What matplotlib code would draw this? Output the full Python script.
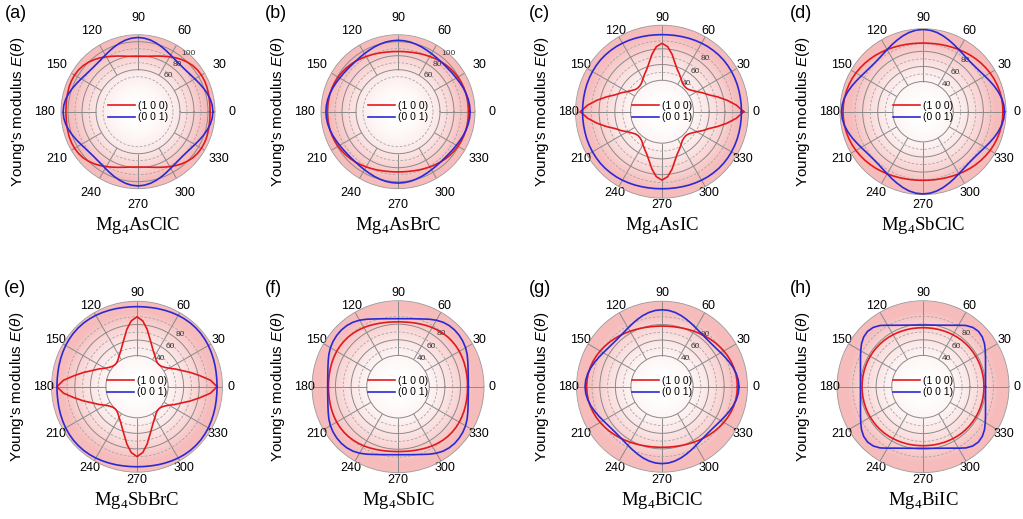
import numpy as np
import matplotlib.pyplot as plt
from matplotlib.colors import LinearSegmentedColormap
from matplotlib.ticker import FixedLocator

plt.rcParams['font.family'] = ['Liberation Sans', 'DejaVu Sans']
plt.rcParams['mathtext.fontset'] = 'custom'
plt.rcParams['mathtext.rm'] = 'Liberation Sans'
plt.rcParams['mathtext.it'] = 'Liberation Sans:italic'

# E(theta) read in the first quadrant, 0..90 deg every 5 deg
angles_deg = np.arange(0, 95, 5)

red_a = [103, 103.1, 103.5, 104.0, 104.6, 104.8, 104.6, 103.8, 102.3, 100, 97.2, 94.0, 90.6, 87.4, 84.6, 82.2, 80.4, 79.4, 79]
blue_a = [107, 106.4, 104.7, 102.2, 99.3, 96.4, 93.8, 91.8, 90.5, 90, 90.4, 91.5, 93.4, 95.9, 98.7, 101.4, 103.8, 105.4, 106]
red_b = [101, 100.9, 100.8, 100.6, 100.2, 99.6, 98.9, 97.9, 96.8, 95.5, 94.1, 92.6, 91.1, 89.7, 88.5, 87.4, 86.6, 86.2, 86]
blue_b = [103, 102.7, 101.9, 100.6, 99.2, 97.6, 96.2, 95.1, 94.3, 94, 94.2, 94.8, 95.8, 97.0, 98.5, 99.8, 101.0, 101.7, 102]
red_c = [104, 95, 84, 73, 63, 57, 51, 47, 44, 43, 43.4, 45, 48.5, 52.5, 57, 64, 74, 83, 87]
blue_c = [101, 101.1, 101.2, 101.4, 101.7, 101.9, 102.1, 102.2, 102.2, 102, 101.6, 101.2, 100.6, 100.0, 99.4, 98.8, 98.4, 98.1, 98]
red_d = [106, 105.9, 105.6, 105.2, 104.5, 103.7, 102.7, 101.5, 100.3, 99, 97.7, 96.3, 95.1, 93.9, 92.9, 92.1, 91.5, 91.1, 91]
blue_d = [108, 107.4, 105.7, 103.1, 100.2, 97.2, 94.6, 92.6, 91.4, 91, 91.5, 92.9, 95.0, 97.8, 100.8, 103.9, 106.6, 108.4, 109]
red_e = [103, 95, 82, 71, 61, 54, 47.6, 43.4, 40.9, 40, 40.5, 42.5, 46, 50, 56, 64, 75, 85, 90]
blue_e = [103, 103.1, 103.4, 104.0, 104.6, 105.3, 106.0, 106.5, 106.9, 107, 106.9, 106.5, 106.0, 105.3, 104.6, 104.0, 103.4, 103.1, 103]
red_f = [89, 89.1, 89.3, 89.6, 90.0, 90.3, 90.6, 90.6, 90.4, 90, 89.3, 88.4, 87.4, 86.3, 85.2, 84.3, 83.6, 83.1, 83]
blue_f = [90, 90.3, 91.2, 92.8, 95.0, 97.6, 99.8, 101.3, 102.2, 102.5, 102.0, 100.6, 98.2, 95.2, 92.2, 89.9, 88.3, 87.3, 87]
red_g = [97, 96.8, 96.4, 95.6, 94.6, 93.3, 91.9, 90.3, 88.7, 87, 85.4, 83.8, 82.4, 81.1, 80.0, 79.1, 78.5, 78.1, 78]
blue_g = [99, 98.5, 97.0, 94.8, 92.2, 89.6, 87.3, 85.5, 84.4, 84, 84.4, 85.5, 87.3, 89.6, 92.2, 94.8, 97.0, 98.5, 99]
red_h = [78, 78, 78, 78, 78, 78, 77.9, 77.8, 77.7, 77.5, 77.3, 77.0, 76.7, 76.4, 76.1, 75.9, 75.7, 75.5, 75.5]
blue_h = [80, 80.3, 81.2, 82.8, 85.1, 88.2, 92.0, 96.0, 99.0, 100.2, 99.0, 95.6, 90.8, 86.7, 83.7, 81.5, 80.0, 79.1, 78.8]

panel_tags = ['(a)', '(b)', '(c)', '(d)', '(e)', '(f)', '(g)', '(h)']
compounds = ['AsClC', 'AsBrC', 'AsIC', 'SbClC', 'SbBrC', 'SbIC', 'BiClC', 'BiIC']
red_sets = [red_a, red_b, red_c, red_d, red_e, red_f, red_g, red_h]
blue_sets = [blue_a, blue_b, blue_c, blue_d, blue_e, blue_f, blue_g, blue_h]
major_ticks = [[60, 80, 100], [60, 80, 100]] + [[40, 60, 80]] * 6
minor_ticks = [[50, 70, 90]] * 8
r_max = 110

# panel centres and radii in pixels
W, H = 1023, 519
centers = [(138, 111.7), (398, 111.7), (662, 111.7), (923, 111.7),
           (137, 386.7), (398, 386.7), (662, 386.7), (923, 386.7)]
radii = [77, 77, 86.5, 83, 85.5, 86, 85.5, 86]

pink = LinearSegmentedColormap.from_list('pinkfade', ['#ffffff', '#f6bcbc'])
grid_col = '#8a8a8a'


def full_circle(q):
    # mirror the first quadrant into the remaining three
    q = np.asarray(q, dtype=float)
    return np.concatenate([q, q[17::-1], q[1:], q[17::-1]])


theta = np.deg2rad(np.arange(0, 365, 5))

fig = plt.figure(figsize=(W / 100, H / 100), dpi=100)

for i in range(8):
    cx, cy = centers[i]
    R = radii[i]
    ax = fig.add_axes([(cx - R) / W, (H - cy - R) / H, 2 * R / W, 2 * R / H],
                      projection='polar')
    ax.set_ylim(0, r_max)

    # radial colour fade behind everything
    rr = np.linspace(0, r_max, 111)
    tt = np.linspace(0, 2 * np.pi, 181)
    T, RR = np.meshgrid(tt, rr)
    rc = 0.5 * (rr[:-1] + rr[1:])
    shade = np.clip(rc / (0.88 * r_max), 0, 1) ** 2.0
    shade = np.repeat(shade[:, None], len(tt) - 1, axis=1)
    ax.pcolormesh(T, RR, shade, cmap=pink, vmin=0, vmax=1, shading='flat',
                  zorder=0, rasterized=True)

    # spokes every 30 degrees, starting at the innermost ring
    spokes = np.deg2rad(np.arange(0, 360, 30))
    ax.vlines(spokes, major_ticks[i][0], r_max, color=grid_col, lw=0.7, zorder=1)

    ax.set_rticks(major_ticks[i])
    ax.yaxis.set_minor_locator(FixedLocator(minor_ticks[i]))
    ax.yaxis.grid(True, which='major', color=grid_col, lw=0.7)
    ax.yaxis.grid(True, which='minor', color='#a5a5a5', lw=0.6, ls=(0, (3, 2)))
    ax.xaxis.grid(False)
    ax.set_rlabel_position(52)
    ax.tick_params(axis='y', which='both', labelsize=6, labelcolor='#333333', length=0)

    ax.set_thetagrids(np.arange(0, 360, 30), labels=[str(a) for a in range(0, 360, 30)])
    ax.tick_params(axis='x', labelsize=9, length=0, pad=0.72 * (84 - R))

    ax.spines['polar'].set_color('#9a9a9a')
    ax.spines['polar'].set_linewidth(0.6)

    ax.plot(theta, full_circle(red_sets[i]), color='#e31a1c', lw=1.2, label='(1 0 0)', zorder=3)
    ax.plot(theta, full_circle(blue_sets[i]), color='#2a2ad4', lw=1.2, label='(0 0 1)', zorder=3)
    ax.legend(loc='center', frameon=False, fontsize=7.5, handlelength=2.6,
              handletextpad=0.3, labelspacing=0.15, borderpad=0)

    # annotations around each panel
    fig.text((cx - 120) / W, 1 - cy / H, r"Young's modulus $E(\theta)$", rotation=90,
             fontsize=11, ha='center', va='center')
    fig.text((cx - 133) / W, 1 - (cy - 98) / H, panel_tags[i], fontsize=13,
             ha='left', va='center')
    fig.text(cx / W, 1 - (cy + 114) / H, r'Mg$_{\mathregular{4}}$' + compounds[i],
             fontsize=13.5, family='Liberation Serif', ha='center', va='center')

fig.savefig('out.png', dpi=100)
